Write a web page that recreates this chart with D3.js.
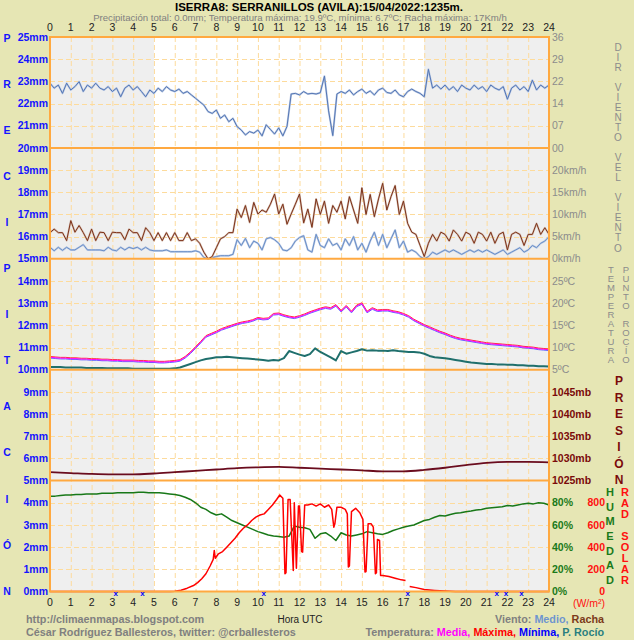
<!DOCTYPE html>
<html><head><meta charset="utf-8">
<script src="https://cdn.jsdelivr.net/npm/d3@7"></script>
<style>body{margin:0;background:#e6e6b4;} svg{display:block;font-family:"Liberation Sans",Arial,sans-serif}</style>
</head><body><svg id="c" width="634" height="640"></svg>
<script>
// ---------- DATA ----------
const hourTicks = d3.range(0, 25);
const mmTicks = d3.range(0, 26);
const dirTicks = [0, 7.2, 14.4, 21.6, 28.8, 36];
const windTicks = [0, 5, 10, 15, 20];
const tempTicks = [5, 10, 15, 20, 25];
const presTicks = [1025, 1030, 1035, 1040, 1045];
const humTicks = [0, 20, 40, 60, 80];
const radTicks = [0, 200, 400, 600, 800];

const dirStep = 0.2; // hours between samples
const windDir = [21.0,19.4,20.4,17.7,21.0,18.8,19.9,21.5,18.3,20.4,19.4,21.0,19.4,18.8,19.9,18.3,19.4,16.6,19.4,20.4,18.8,19.9,18.3,16.6,18.8,17.7,
 19.4,18.3,19.9,18.8,18.3,19.1,17.7,18.3,17.2,
 16.1,15.0,13.9,11.8,11.2,12.3,9.6,10.7,8.5,9.6,6.9,5.8,4.2,5.3,4.8,5.8,3.9,
 7.5,6.0,4.5,6.5,3.9,7.0,17.5,17.7,17.2,18.3,17.5,17.7,17.5,17.9,23.3,12.0,4.0,
 17.5,18.3,17.7,18.8,17.2,18.3,19.1,17.7,18.5,17.2,18.8,19.4,18.0,17.7,18.8,17.2,16.6,18.3,19.1,18.3,17.7,16.6,25.5,19.4,20.4,19.1,20.4,18.8,19.9,18.3,20.4,19.4,18.8,20.4,19.1,19.9,18.3,20.4,19.4,18.8,19.9,15.8,19.4,20.4,18.8,19.9,18.3,22.0,18.8,20.4,19.4,20.4];

const windStep = 0.2;
const windGust = [5.9,6.7,5.9,5.9,4.1,8.6,6.0,7.5,5.9,4.1,6.7,4.1,6.0,5.9,4.1,6.0,5.9,5.9,4.3,6.7,5.9,5.9,4.1,7.0,5.9,4.1,
 5.9,4.1,5.9,4.1,5.9,4.1,4.1,5.9,4.1,
 4.5,3.5,1.5,0,0.5,2.5,4.5,5.0,5.9,5.9,11.2,9.3,12.0,8.2,12.7,10.1,11.0,
 10.5,12.3,14.6,10.1,12.3,7.8,10.1,12.3,14.6,8.1,11.2,7.1,13.5,10.0,13.0,8.0,12.0,
 10.5,13.0,9.0,14.0,11.0,8.0,16.0,10.0,14.5,9.5,13.5,17.0,11.0,14.0,16.5,10.0,13.0,8.0,6.0,5.5,3.0,0.5,3.5,5.5,4.0,6.0,5.5,4.0,6.5,5.5,4.0,6.0,5.5,3.5,6.0,5.5,4.0,6.0,3.5,5.5,6.0,2.0,5.5,6.0,5.5,3.0,5.5,5.5,8.0,5.5,7.0,5.5];
const windMean = [2.6,1.8,2.6,1.9,2.6,2.0,2.0,2.6,3.2,2.0,2.0,2.0,2.0,1.8,2.6,2.0,1.8,2.6,2.0,2.6,2.3,2.6,2.0,2.6,2.0,1.8,
 1.8,1.8,2.0,1.6,1.6,1.6,1.6,1.6,1.6,
 1.8,1.5,0.3,0,0.3,0.5,0.7,0.7,0.7,1.0,4.3,3.0,4.6,2.5,4.0,3.5,2.0,
 4.5,4.8,4.3,3.5,2.0,1.8,2.5,4.0,4.8,5.2,2.0,1.5,5.5,3.0,2.5,4.5,3.0,
 3.5,2.0,4.5,3.0,5.0,2.0,3.5,1.5,4.0,6.0,3.0,5.5,2.5,4.5,6.5,2.5,4.0,1.5,2.0,1.5,0.5,0,0.5,1.5,1.0,1.5,2.0,1.5,2.0,1.5,1.0,1.5,2.0,1.5,2.0,1.5,2.0,1.5,1.0,1.5,2.0,1.0,1.5,2.0,2.5,1.5,2.0,3.0,2.5,3.5,4.0,5.0];

const tStep = 0.25;
const temperature = [7.8,7.7,7.6,7.6,7.5,7.5,7.4,7.4,7.3,7.3,7.2,7.2,7.1,7.1,7.0,7.0,7.0,6.9,6.9,6.8,6.8,6.7,6.7,6.8,
 6.9,7.1,7.8,8.8,10.0,11.2,12.5,13.0,13.5,14.1,14.5,14.9,15.3,15.6,15.8,16.1,
 16.6,16.4,16.5,17.5,17.6,17.2,16.9,16.7,17.0,17.4,17.9,18.3,18.7,19.0,18.8,19.5,
 18.2,19.3,18.0,19.4,19.9,18.0,18.8,18.3,18.4,18.4,18.1,17.9,17.5,17.0,16.2,15.6,
 15.0,14.5,14.0,13.5,13.1,12.6,12.2,11.9,11.7,11.5,11.3,11.1,10.9,10.8,10.7,10.6,
 10.5,10.4,10.3,10.1,10.0,9.9,9.7,9.6,9.5];
const dewPoint = [5.6,5.6,5.6,5.5,5.5,5.5,5.5,5.4,5.4,5.4,5.4,5.3,5.3,5.3,5.3,5.3,5.2,5.2,5.2,5.2,5.2,5.2,5.2,5.2,
 5.3,5.5,5.9,6.3,6.7,7.1,7.4,7.6,7.8,7.8,7.9,7.8,7.7,7.6,7.5,7.4,
 7.3,7.2,7.0,7.2,7.1,7.6,9.2,8.8,8.4,8.1,8.5,9.8,9.0,8.4,7.8,7.1,
 9.2,8.6,8.9,9.2,9.6,9.3,9.4,9.3,9.3,9.2,9.4,9.2,9.1,9.0,9.0,8.9,
 8.6,8.1,7.8,7.7,7.6,7.4,7.2,7.0,6.8,6.6,6.5,6.4,6.3,6.3,6.2,6.2,
 6.1,6.1,6.0,6.0,5.9,5.9,5.8,5.8,5.7];

const presStep = 1;
const pressure = [1026.9,1026.7,1026.5,1026.4,1026.4,1026.6,1026.9,1027.2,1027.5,1027.8,1028.0,1028.1,1027.9,1027.7,1027.5,1027.3,1027.1,1027.1,1027.4,1027.9,1028.5,1029.0,1029.2,1029.2,1029.1];

const humStep = 0.25;
const humidity = [86,86,86.5,87,87,87.5,87.5,88,88,88,88.5,88.5,88.5,89,89,89,89,89.5,89.5,89,89,89,88.5,88,
 87.5,86.5,85,83,80,76,74,71,69,70,67,64,62,60,58,56,
 54,52.5,51,50,49.5,49,50,59,58,57.5,56,48,52,53,50,46,
 53,51,50,51,52,54,53,52,51.5,53,55,56.5,58,59,60,62,
 64,65,67,68.5,68,69.5,70.5,71,72,72.5,73.5,74,75,75.5,76,76.5,
 77.5,77,78,79,79.5,79,80,79.5,78];

const solarRadiation = [[0,0],[5.8,0],[6.0,3],[6.3,12],[6.6,30],[6.9,54],[7.1,80],[7.3,115],[7.5,160],[7.7,230],[7.85,290],[7.9,370],[7.95,300],[8.1,340],[8.3,360],[8.5,400],[8.7,440],[8.9,480],[9.1,530],[9.3,570],[9.5,600],[9.7,640],[9.9,670],[10.1,690],[10.3,700],[10.5,740],[10.7,780],[10.9,830],[11.05,870],[11.2,840],[11.3,160],[11.35,170],[11.45,830],[11.55,830],[11.7,190],[11.75,800],[11.85,210],[11.95,770],[12.0,770],[12.1,360],[12.15,355],[12.25,780],[12.4,780],[12.6,790],[12.8,770],[13.0,790],[13.2,760],[13.4,780],[13.55,740],[13.65,580],[13.7,610],[13.8,760],[14.0,760],[14.2,740],[14.3,700],[14.35,220],[14.4,230],[14.5,720],[14.7,750],[14.9,710],[15.05,650],[15.15,175],[15.2,180],[15.3,610],[15.45,610],[15.55,580],[15.65,160],[15.7,170],[15.75,470],[15.85,460],[15.9,145],[16.0,145],[16.3,135],[16.6,120],[16.9,105],[17.1,100],[17.2,null],[17.3,45],[17.6,35],[18.0,18],[18.5,10],[19.0,4],[19.5,0],[24,0]];

const missingMarks = [3.16, 4.45, 10.28, 17.2, 21.48, 21.93, 22.68];

const titleText = "ISERRA8: SERRANILLOS (AVILA):15/04/2022:1235m.";
const subtitleText = "Precipitación total: 0.0mm; Temperatura máxima: 19.9ºC, mínima: 6.7ºC; Racha máxima: 17Km/h";
const leftWord = "PRECIPITACIÓN";

// ---------- DRAW ----------
const svg = d3.select("#c");
const x = d3.scaleLinear().domain([0, 24]).range([50, 549]);
const yMM = d3.scaleLinear().domain([0, 25]).range([591.5, 37]);
const yDir = d3.scaleLinear().domain([0, 36]).range([yMM(20), yMM(25)]);
const yWind = d3.scaleLinear().domain([0, 25]).range([yMM(15), yMM(20)]);
const yTemp = d3.scaleLinear().domain([5, 30]).range([yMM(10), yMM(15)]);
const yPres = d3.scaleLinear().domain([1025, 1050]).range([yMM(5), yMM(10)]);
const yHum = d3.scaleLinear().domain([0, 100]).range([yMM(0), yMM(5)]);
const yRad = d3.scaleLinear().domain([0, 1000]).range([yMM(0), yMM(5)]);

const ORANGE = "#ffa940", GRID = "#fddb9c";

// plot background & night shading
svg.append("rect").attr("x", x(0)).attr("y", yMM(25)).attr("width", x(24) - x(0)).attr("height", yMM(0) - yMM(25)).attr("fill", "#ffffff");
[[0, 5], [18, 24]].forEach(([a, b]) => svg.append("rect").attr("x", x(a)).attr("y", yMM(25)).attr("width", x(b) - x(a)).attr("height", yMM(0) - yMM(25)).attr("fill", "#efefef"));

// grid
const grid = svg.append("g").attr("stroke", GRID).attr("stroke-width", 1).attr("stroke-dasharray", "5,3");
grid.selectAll("line.v").data(hourTicks.slice(1, 24)).join("line")
  .attr("x1", d => x(d) + 0.5).attr("x2", d => x(d) + 0.5).attr("y1", yMM(25)).attr("y2", yMM(0));
grid.selectAll("line.h").data(mmTicks.filter(d => d % 5 !== 0)).join("line")
  .attr("x1", x(0)).attr("x2", x(24)).attr("y1", d => Math.round(yMM(d)) + 0.5).attr("y2", d => Math.round(yMM(d)) + 0.5);

// helpers
const series = (arr, step) => arr.map((v, i) => ({ h: i * step, v }));
function drawLine(data, yS, color, width, curve, g) {
  (g || svg).append("path").datum(data)
    .attr("fill", "none").attr("stroke", color).attr("stroke-width", width).attr("stroke-linejoin", "round")
    .attr("d", d3.line().defined(d => d.v != null).x(d => x(d.h)).y(d => yS(d.v)).curve(curve || d3.curveLinear));
}

// wind direction
const dirData = series(windDir, dirStep);
drawLine(dirData, yDir, "#bccbe5", 2);
drawLine(dirData, yDir, "#5476b4", 1);

// wind speed
const gustData = series(windGust, windStep);
const meanData = series(windMean, windStep);
drawLine(meanData, yWind, "#bccbe5", 2);
drawLine(meanData, yWind, "#6a8fc8", 1);
drawLine(gustData, yWind, "#d6c0b4", 2);
drawLine(gustData, yWind, "#7d3219", 1);

// temperature & dew point
const tData = series(temperature, tStep);
const dData = series(dewPoint, tStep);
drawLine(dData, yTemp, "#1f6f6c", 2);
const tg1 = svg.append("g").attr("transform", "translate(0,0.8)");
drawLine(tData, yTemp, "#6060ff", 1, null, tg1);
const tg2 = svg.append("g").attr("transform", "translate(0,-0.8)");
drawLine(tData, yTemp, "#ff3030", 1, null, tg2);
drawLine(tData, yTemp, "#ff00ff", 1);

// pressure
drawLine(series(pressure, presStep), yPres, "#6a0c1e", 1.8, d3.curveMonotoneX);

// humidity & radiation
drawLine(series(humidity, humStep), yHum, "#187818", 1.5);
drawLine(solarRadiation.map(([h, v]) => ({ h, v })), yRad, "#ff0000", 1.5);

// frame and panel separators
svg.append("rect").attr("x", x(0)).attr("y", yMM(25)).attr("width", x(24) - x(0)).attr("height", yMM(0) - yMM(25))
  .attr("fill", "none").attr("stroke", ORANGE).attr("stroke-width", 2);
svg.selectAll("line.sep").data([5, 10, 15, 20]).join("line")
  .attr("x1", x(0)).attr("x2", x(24)).attr("y1", d => yMM(d)).attr("y2", d => yMM(d))
  .attr("stroke", ORANGE).attr("stroke-width", 2);

// missing data marks
svg.selectAll("text.mk").data(missingMarks).join("text")
  .attr("x", d => x(d)).attr("y", yMM(0) + 4).attr("text-anchor", "middle")
  .attr("font-size", 8).attr("font-weight", "bold").attr("fill", "#0000ff").text("x");

// hour labels top and bottom
[31, 606].forEach(yy => {
  svg.append("g").selectAll("text").data(hourTicks).join("text")
    .attr("x", d => x(d)).attr("y", yy).attr("text-anchor", "middle")
    .attr("font-size", 10.5).attr("fill", "#222").text(d => d);
});

// left mm labels
svg.append("g").selectAll("text").data(mmTicks).join("text")
  .attr("x", 48).attr("y", d => yMM(d)).attr("dy", "0.35em").attr("text-anchor", "end")
  .attr("font-size", 10.5).attr("font-weight", "bold").attr("fill", "#1414ff").text(d => d + "mm");
const lp = d3.scalePoint().domain(d3.range(leftWord.length)).range([38, 591]);
svg.append("g").selectAll("text").data(leftWord.split("")).join("text")
  .attr("x", 7).attr("y", (d, i) => lp(i)).attr("dy", "0.35em").attr("text-anchor", "middle")
  .attr("font-size", 10.5).attr("font-weight", "bold").attr("fill", "#1414ff").text(d => d);

// right axis labels
function rightLabels(ticks, yS, fmt, color, bold, anchorX, anchor) {
  svg.append("g").selectAll("text").data(ticks).join("text")
    .attr("x", anchorX).attr("y", d => yS(d)).attr("dy", "0.35em").attr("text-anchor", anchor || "start")
    .attr("font-size", 10.5).attr("font-weight", bold ? "bold" : "normal").attr("fill", color).text(fmt);
}
rightLabels(dirTicks, yDir, d => d3.format("02.0f")(d), "#8c8c8c", false, 552);
rightLabels(windTicks, yWind, d => d + "km/h", "#8c8c8c", false, 552);
rightLabels(tempTicks, yTemp, d => d + "ºC", "#8c8c8c", false, 552);
rightLabels(presTicks, yPres, d => d + "mb", "#7a0a0a", true, 552);
rightLabels(humTicks, yHum, d => d + "%", "#1a7a1a", true, 552);
rightLabels(radTicks, yRad, d => d, "#ff1010", true, 605, "end");
svg.append("text").attr("x", 605).attr("y", 607).attr("text-anchor", "end").attr("font-size", 10.5)
  .attr("fill", "#ff1010").text("(W/m²)");

// right vertical words
function vword(word, cx, y0, y1, color, size, bold) {
  const p = d3.scalePoint().domain(d3.range(word.length)).range([y0, y1]);
  svg.append("g").selectAll("text").data(word.split("")).join("text")
    .attr("x", cx).attr("y", (d, i) => p(i)).attr("dy", "0.35em").attr("text-anchor", "middle")
    .attr("font-size", size).attr("font-weight", bold ? "bold" : "normal").attr("fill", color).text(d => d);
}
vword("DIR VIENTO", 618, 47, 137, "#8c8c8c", 10, false);
vword("VEL VIENTO", 618, 157, 248, "#8c8c8c", 10, false);
vword("TEMPERATURA", 611, 270, 360, "#8c8c8c", 9.5, false);
vword("PUNTO ROCÍO", 626, 270, 360, "#8c8c8c", 9.5, false);
vword("PRESIÓN", 619, 381, 480, "#7a0a0a", 12, true);
vword("HUMEDAD", 610, 492, 580, "#1a7a1a", 11, true);
vword("RAD SOLAR", 625, 492, 580, "#ff1010", 11, true);

// titles
svg.append("text").attr("x", 319).attr("y", 11).attr("text-anchor", "middle").attr("font-size", 11.5)
  .attr("font-weight", "bold").attr("fill", "#000").text(titleText);
svg.append("text").attr("x", 300).attr("y", 21).attr("text-anchor", "middle").attr("font-size", 9.6)
  .attr("fill", "#808080").text(subtitleText);

// footer
svg.append("text").attr("x", 26).attr("y", 623).attr("font-size", 10.8).attr("font-weight", "bold").attr("fill", "#808080").text("http://climaenmapas.blogspot.com");
svg.append("text").attr("x", 26).attr("y", 636).attr("font-size", 10.8).attr("font-weight", "bold").attr("fill", "#808080").text("César Rodríguez Ballesteros, twitter: @crballesteros");
svg.append("text").attr("x", 300).attr("y", 623).attr("text-anchor", "middle").attr("font-size", 10).attr("fill", "#222").text("Hora UTC");

const leg1 = svg.append("text").attr("x", 604).attr("y", 623).attr("text-anchor", "end").attr("font-size", 10.8).attr("font-weight", "bold");
[["Viento: ", "#808080"], ["Medio, ", "#6e95cf"], ["Racha", "#7b3a1a"]].forEach(([t, c]) => leg1.append("tspan").attr("fill", c).text(t));
const leg2 = svg.append("text").attr("x", 604).attr("y", 636).attr("text-anchor", "end").attr("font-size", 10.8).attr("font-weight", "bold");
[["Temperatura: ", "#808080"], ["Media, ", "#ff00ff"], ["Máxima, ", "#ff0000"], ["Mínima, ", "#0000ff"], ["P. Rocío", "#2a7f7f"]].forEach(([t, c]) => leg2.append("tspan").attr("fill", c).text(t));
</script></body></html>
